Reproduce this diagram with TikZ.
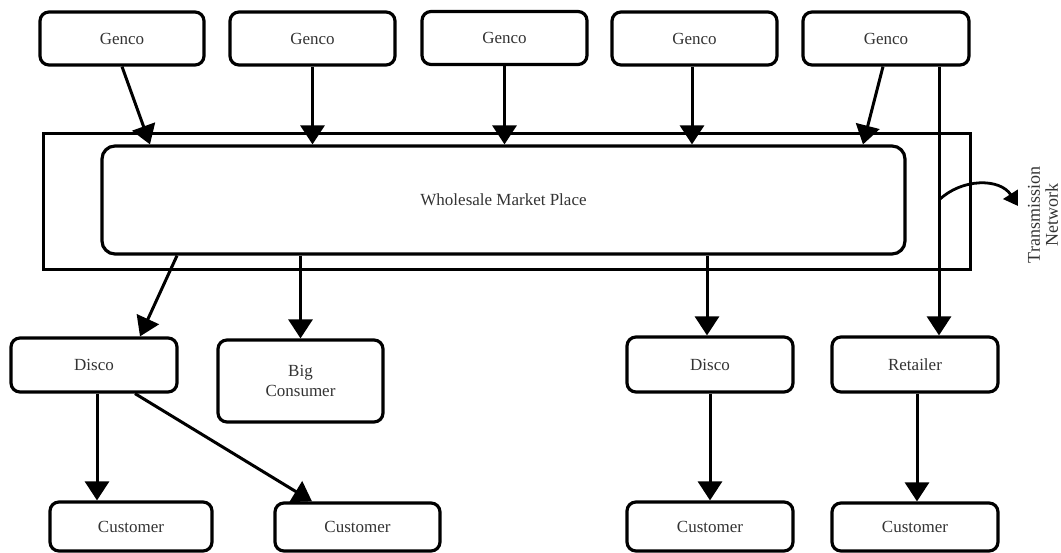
\documentclass[tikz,border=0pt]{standalone}
\usepackage{fontspec}
\setmainfont{Liberation Serif}
\usetikzlibrary{arrows.meta}

\begin{document}
\begin{tikzpicture}[x=1pt,y=-1pt,
  box/.style={draw, line width=3.2pt, rounded corners=9pt, minimum width=165pt,
              minimum height=53pt, align=center, text=black!80,
              font=\fontsize{17}{20}\selectfont},
  plainbox/.style={draw, line width=3pt},
  arr/.style={line width=3pt, -{Triangle[width=24pt,length=19pt]}},
  smallarr/.style={line width=2.8pt, -{Triangle[width=17pt,length=14pt]}}]

\useasboundingbox (0,0) rectangle (1061,553);

% transmission network frame and wholesale market
\node[plainbox, minimum width=927pt, minimum height=136pt] (tnet) at (506.5,202) {};
\node[box, minimum width=803pt, minimum height=108pt, rounded corners=13pt] (wm) at (503.5,200) {Wholesale Market Place};

% generating companies
\node[box, minimum width=164pt] (g1) at (122,38.5) {Genco};
\node[box] (g2) at (312.5,38.5) {Genco};
\node[box] (g3) at (504.5,38) {Genco};
\node[box] (g4) at (694.5,38.5) {Genco};
\node[box, minimum width=166pt] (g5) at (886,38.5) {Genco};

% distribution level
\node[box, minimum width=166pt, minimum height=54pt] (d1) at (94,365) {Disco};
\node[box, minimum height=82pt] (bc) at (300.5,381) {Big\\Consumer};
\node[box, minimum width=166pt, minimum height=55pt] (d2) at (710,364.5) {Disco};
\node[box, minimum width=166pt, minimum height=55pt] (ret) at (915,364.5) {Retailer};

% customers
\node[box, minimum width=162pt, minimum height=49pt] (c1) at (131,526.5) {Customer};
\node[box, minimum height=48pt] (c2) at (357.5,527) {Customer};
\node[box, minimum width=166pt, minimum height=49pt] (c3) at (710,526.5) {Customer};
\node[box, minimum width=166pt, minimum height=48pt] (c4) at (915,527) {Customer};

% label of the transmission network
\node[rotate=90, align=center, text=black!80, inner sep=0pt,
      font=\fontsize{18}{18}\selectfont] (tlabel) at (1043,215) {Transmission\\Network};

% gencos into the market
\draw[arr] (g1.south) -- ([xshift=-353.5pt]wm.north);
\draw[arr] (g2.south) -- (g2.south |- wm.north);
\draw[arr] (g3.south) -- (g3.south |- wm.north);
\draw[arr] ([xshift=-2.5pt]g4.south) -- ([xshift=-2.5pt]g4.south |- wm.north);
\draw[arr] ([xshift=-3pt]g5.south) -- ([xshift=359.5pt]wm.north);
\draw[arr] ([xshift=53pt]g5.south) -- ([xshift=24pt]ret.north);

% market to buyers
\draw[arr] ([xshift=-326.5pt]wm.south) -- ([xshift=46pt]d1.north);
\draw[arr] (bc.north |- wm.south) -- (bc.north);
\draw[arr] ([xshift=-3pt]d2.north |- wm.south) -- ([xshift=-3pt]d2.north);

% buyers to customers
\draw[arr] ([xshift=3pt]d1.south) -- ([xshift=3pt]d1.south |- c1.north);
\draw[arr] ([xshift=41pt]d1.south) -- ([xshift=-45.5pt]c2.north);
\draw[arr] (d2.south) -- (c3.north);
\draw[arr] ([xshift=2pt]ret.south) -- ([xshift=2pt]c4.north);

% pointer to the network label
\coordinate (tap) at (939,200);
\coordinate (tend) at (1018,206);
\draw[smallarr] (tap) .. controls (962,178) and (1000,178) .. (tend);

\end{tikzpicture}
\end{document}
